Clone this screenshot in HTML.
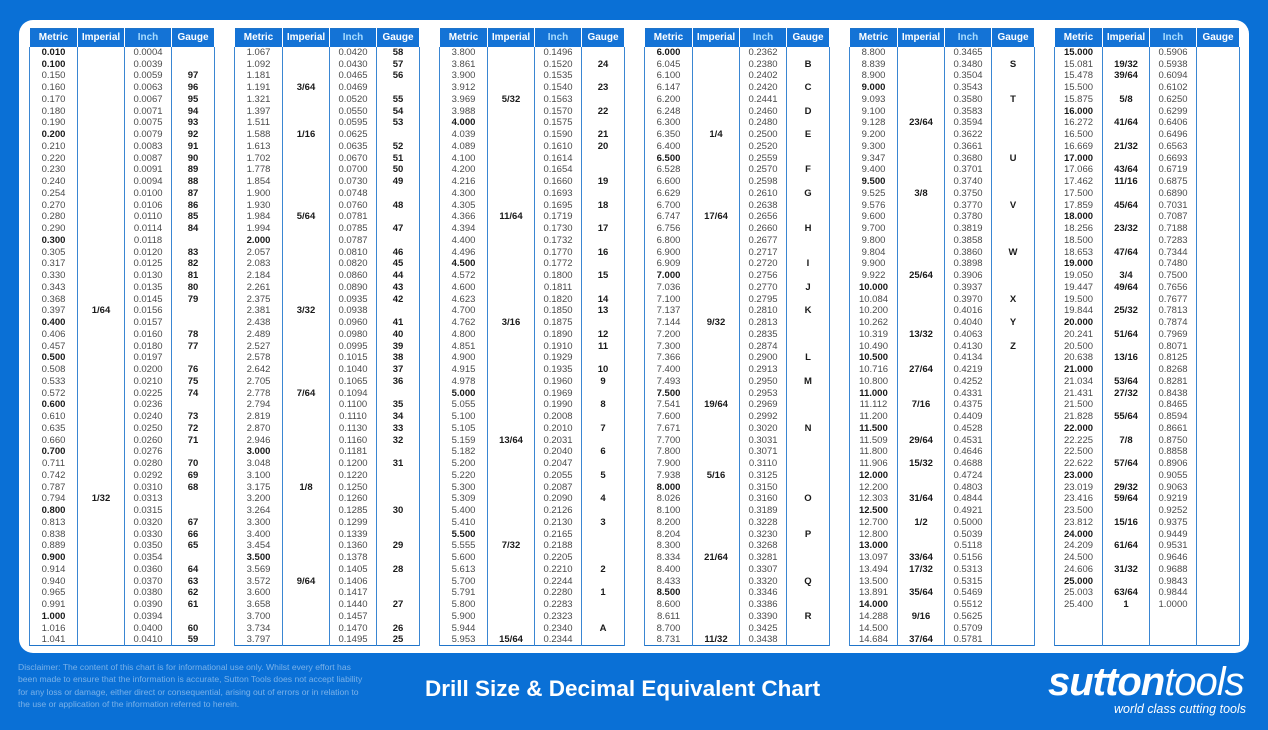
<!DOCTYPE html>
<html><head><meta charset="utf-8"><style>
*{margin:0;padding:0;box-sizing:border-box}
html,body{width:1268px;height:730px;overflow:hidden;background:#0a70d6;font-family:"Liberation Sans",sans-serif}
.panel{position:absolute;left:19px;top:20px;width:1230px;height:633px;background:#fff;border-radius:14px}
table{position:absolute;top:28px;width:185px;border-collapse:collapse;table-layout:fixed;border:1.5px solid #1f74c9}
th{height:18px;background:#1473d6;color:#fff;font-size:10px;font-weight:bold;border-left:1.5px solid #fff;border-right:1.5px solid #fff}
th.i{color:#a8dcff}
td{height:11.76px;padding:0;font-size:9.5px;line-height:11px;color:#4a4a4a;text-align:center;border-left:1px solid #3a86d2;border-right:1px solid #3a86d2;white-space:nowrap}
td:nth-child(2),td:nth-child(4),td.b{font-weight:bold;color:#1a1a1a}
col.a{width:48px}col.c{width:47px}col.d{width:47px}col.e{width:43px}
.disc{position:absolute;left:18px;top:661px;width:345px;font-size:8.6px;line-height:12.3px;color:rgba(255,255,255,.45)}
.title{position:absolute;left:425px;top:676px;font-size:22.5px;font-weight:bold;color:#fff;white-space:nowrap}
.logo{position:absolute;left:1048px;top:660px;font-size:40px;font-style:italic;color:#fff;letter-spacing:-1px;white-space:nowrap}
.logo b{font-weight:900}.logo span{font-weight:normal}
.tag{position:absolute;left:1114px;top:702px;font-size:12.5px;font-style:italic;color:#fff;white-space:nowrap}
</style></head><body>
<div class="panel"></div>

<table style="left:29px"><colgroup><col class=a><col class=c><col class=d><col class=e></colgroup>
<tr><th>Metric<th>Imperial<th class=i>Inch<th>Gauge
<tr><td class=b>0.010<td><td>0.0004<td>
<tr><td class=b>0.100<td><td>0.0039<td>
<tr><td>0.150<td><td>0.0059<td>97
<tr><td>0.160<td><td>0.0063<td>96
<tr><td>0.170<td><td>0.0067<td>95
<tr><td>0.180<td><td>0.0071<td>94
<tr><td>0.190<td><td>0.0075<td>93
<tr><td class=b>0.200<td><td>0.0079<td>92
<tr><td>0.210<td><td>0.0083<td>91
<tr><td>0.220<td><td>0.0087<td>90
<tr><td>0.230<td><td>0.0091<td>89
<tr><td>0.240<td><td>0.0094<td>88
<tr><td>0.254<td><td>0.0100<td>87
<tr><td>0.270<td><td>0.0106<td>86
<tr><td>0.280<td><td>0.0110<td>85
<tr><td>0.290<td><td>0.0114<td>84
<tr><td class=b>0.300<td><td>0.0118<td>
<tr><td>0.305<td><td>0.0120<td>83
<tr><td>0.317<td><td>0.0125<td>82
<tr><td>0.330<td><td>0.0130<td>81
<tr><td>0.343<td><td>0.0135<td>80
<tr><td>0.368<td><td>0.0145<td>79
<tr><td>0.397<td>1/64<td>0.0156<td>
<tr><td class=b>0.400<td><td>0.0157<td>
<tr><td>0.406<td><td>0.0160<td>78
<tr><td>0.457<td><td>0.0180<td>77
<tr><td class=b>0.500<td><td>0.0197<td>
<tr><td>0.508<td><td>0.0200<td>76
<tr><td>0.533<td><td>0.0210<td>75
<tr><td>0.572<td><td>0.0225<td>74
<tr><td class=b>0.600<td><td>0.0236<td>
<tr><td>0.610<td><td>0.0240<td>73
<tr><td>0.635<td><td>0.0250<td>72
<tr><td>0.660<td><td>0.0260<td>71
<tr><td class=b>0.700<td><td>0.0276<td>
<tr><td>0.711<td><td>0.0280<td>70
<tr><td>0.742<td><td>0.0292<td>69
<tr><td>0.787<td><td>0.0310<td>68
<tr><td>0.794<td>1/32<td>0.0313<td>
<tr><td class=b>0.800<td><td>0.0315<td>
<tr><td>0.813<td><td>0.0320<td>67
<tr><td>0.838<td><td>0.0330<td>66
<tr><td>0.889<td><td>0.0350<td>65
<tr><td class=b>0.900<td><td>0.0354<td>
<tr><td>0.914<td><td>0.0360<td>64
<tr><td>0.940<td><td>0.0370<td>63
<tr><td>0.965<td><td>0.0380<td>62
<tr><td>0.991<td><td>0.0390<td>61
<tr><td class=b>1.000<td><td>0.0394<td>
<tr><td>1.016<td><td>0.0400<td>60
<tr><td>1.041<td><td>0.0410<td>59
</table>

<table style="left:234px"><colgroup><col class=a><col class=c><col class=d><col class=e></colgroup>
<tr><th>Metric<th>Imperial<th class=i>Inch<th>Gauge
<tr><td>1.067<td><td>0.0420<td>58
<tr><td>1.092<td><td>0.0430<td>57
<tr><td>1.181<td><td>0.0465<td>56
<tr><td>1.191<td>3/64<td>0.0469<td>
<tr><td>1.321<td><td>0.0520<td>55
<tr><td>1.397<td><td>0.0550<td>54
<tr><td>1.511<td><td>0.0595<td>53
<tr><td>1.588<td>1/16<td>0.0625<td>
<tr><td>1.613<td><td>0.0635<td>52
<tr><td>1.702<td><td>0.0670<td>51
<tr><td>1.778<td><td>0.0700<td>50
<tr><td>1.854<td><td>0.0730<td>49
<tr><td>1.900<td><td>0.0748<td>
<tr><td>1.930<td><td>0.0760<td>48
<tr><td>1.984<td>5/64<td>0.0781<td>
<tr><td>1.994<td><td>0.0785<td>47
<tr><td class=b>2.000<td><td>0.0787<td>
<tr><td>2.057<td><td>0.0810<td>46
<tr><td>2.083<td><td>0.0820<td>45
<tr><td>2.184<td><td>0.0860<td>44
<tr><td>2.261<td><td>0.0890<td>43
<tr><td>2.375<td><td>0.0935<td>42
<tr><td>2.381<td>3/32<td>0.0938<td>
<tr><td>2.438<td><td>0.0960<td>41
<tr><td>2.489<td><td>0.0980<td>40
<tr><td>2.527<td><td>0.0995<td>39
<tr><td>2.578<td><td>0.1015<td>38
<tr><td>2.642<td><td>0.1040<td>37
<tr><td>2.705<td><td>0.1065<td>36
<tr><td>2.778<td>7/64<td>0.1094<td>
<tr><td>2.794<td><td>0.1100<td>35
<tr><td>2.819<td><td>0.1110<td>34
<tr><td>2.870<td><td>0.1130<td>33
<tr><td>2.946<td><td>0.1160<td>32
<tr><td class=b>3.000<td><td>0.1181<td>
<tr><td>3.048<td><td>0.1200<td>31
<tr><td>3.100<td><td>0.1220<td>
<tr><td>3.175<td>1/8<td>0.1250<td>
<tr><td>3.200<td><td>0.1260<td>
<tr><td>3.264<td><td>0.1285<td>30
<tr><td>3.300<td><td>0.1299<td>
<tr><td>3.400<td><td>0.1339<td>
<tr><td>3.454<td><td>0.1360<td>29
<tr><td class=b>3.500<td><td>0.1378<td>
<tr><td>3.569<td><td>0.1405<td>28
<tr><td>3.572<td>9/64<td>0.1406<td>
<tr><td>3.600<td><td>0.1417<td>
<tr><td>3.658<td><td>0.1440<td>27
<tr><td>3.700<td><td>0.1457<td>
<tr><td>3.734<td><td>0.1470<td>26
<tr><td>3.797<td><td>0.1495<td>25
</table>

<table style="left:439px"><colgroup><col class=a><col class=c><col class=d><col class=e></colgroup>
<tr><th>Metric<th>Imperial<th class=i>Inch<th>Gauge
<tr><td>3.800<td><td>0.1496<td>
<tr><td>3.861<td><td>0.1520<td>24
<tr><td>3.900<td><td>0.1535<td>
<tr><td>3.912<td><td>0.1540<td>23
<tr><td>3.969<td>5/32<td>0.1563<td>
<tr><td>3.988<td><td>0.1570<td>22
<tr><td class=b>4.000<td><td>0.1575<td>
<tr><td>4.039<td><td>0.1590<td>21
<tr><td>4.089<td><td>0.1610<td>20
<tr><td>4.100<td><td>0.1614<td>
<tr><td>4.200<td><td>0.1654<td>
<tr><td>4.216<td><td>0.1660<td>19
<tr><td>4.300<td><td>0.1693<td>
<tr><td>4.305<td><td>0.1695<td>18
<tr><td>4.366<td>11/64<td>0.1719<td>
<tr><td>4.394<td><td>0.1730<td>17
<tr><td>4.400<td><td>0.1732<td>
<tr><td>4.496<td><td>0.1770<td>16
<tr><td class=b>4.500<td><td>0.1772<td>
<tr><td>4.572<td><td>0.1800<td>15
<tr><td>4.600<td><td>0.1811<td>
<tr><td>4.623<td><td>0.1820<td>14
<tr><td>4.700<td><td>0.1850<td>13
<tr><td>4.762<td>3/16<td>0.1875<td>
<tr><td>4.800<td><td>0.1890<td>12
<tr><td>4.851<td><td>0.1910<td>11
<tr><td>4.900<td><td>0.1929<td>
<tr><td>4.915<td><td>0.1935<td>10
<tr><td>4.978<td><td>0.1960<td>9
<tr><td class=b>5.000<td><td>0.1969<td>
<tr><td>5.055<td><td>0.1990<td>8
<tr><td>5.100<td><td>0.2008<td>
<tr><td>5.105<td><td>0.2010<td>7
<tr><td>5.159<td>13/64<td>0.2031<td>
<tr><td>5.182<td><td>0.2040<td>6
<tr><td>5.200<td><td>0.2047<td>
<tr><td>5.220<td><td>0.2055<td>5
<tr><td>5.300<td><td>0.2087<td>
<tr><td>5.309<td><td>0.2090<td>4
<tr><td>5.400<td><td>0.2126<td>
<tr><td>5.410<td><td>0.2130<td>3
<tr><td class=b>5.500<td><td>0.2165<td>
<tr><td>5.555<td>7/32<td>0.2188<td>
<tr><td>5.600<td><td>0.2205<td>
<tr><td>5.613<td><td>0.2210<td>2
<tr><td>5.700<td><td>0.2244<td>
<tr><td>5.791<td><td>0.2280<td>1
<tr><td>5.800<td><td>0.2283<td>
<tr><td>5.900<td><td>0.2323<td>
<tr><td>5.944<td><td>0.2340<td>A
<tr><td>5.953<td>15/64<td>0.2344<td>
</table>

<table style="left:644px"><colgroup><col class=a><col class=c><col class=d><col class=e></colgroup>
<tr><th>Metric<th>Imperial<th class=i>Inch<th>Gauge
<tr><td class=b>6.000<td><td>0.2362<td>
<tr><td>6.045<td><td>0.2380<td>B
<tr><td>6.100<td><td>0.2402<td>
<tr><td>6.147<td><td>0.2420<td>C
<tr><td>6.200<td><td>0.2441<td>
<tr><td>6.248<td><td>0.2460<td>D
<tr><td>6.300<td><td>0.2480<td>
<tr><td>6.350<td>1/4<td>0.2500<td>E
<tr><td>6.400<td><td>0.2520<td>
<tr><td class=b>6.500<td><td>0.2559<td>
<tr><td>6.528<td><td>0.2570<td>F
<tr><td>6.600<td><td>0.2598<td>
<tr><td>6.629<td><td>0.2610<td>G
<tr><td>6.700<td><td>0.2638<td>
<tr><td>6.747<td>17/64<td>0.2656<td>
<tr><td>6.756<td><td>0.2660<td>H
<tr><td>6.800<td><td>0.2677<td>
<tr><td>6.900<td><td>0.2717<td>
<tr><td>6.909<td><td>0.2720<td>I
<tr><td class=b>7.000<td><td>0.2756<td>
<tr><td>7.036<td><td>0.2770<td>J
<tr><td>7.100<td><td>0.2795<td>
<tr><td>7.137<td><td>0.2810<td>K
<tr><td>7.144<td>9/32<td>0.2813<td>
<tr><td>7.200<td><td>0.2835<td>
<tr><td>7.300<td><td>0.2874<td>
<tr><td>7.366<td><td>0.2900<td>L
<tr><td>7.400<td><td>0.2913<td>
<tr><td>7.493<td><td>0.2950<td>M
<tr><td class=b>7.500<td><td>0.2953<td>
<tr><td>7.541<td>19/64<td>0.2969<td>
<tr><td>7.600<td><td>0.2992<td>
<tr><td>7.671<td><td>0.3020<td>N
<tr><td>7.700<td><td>0.3031<td>
<tr><td>7.800<td><td>0.3071<td>
<tr><td>7.900<td><td>0.3110<td>
<tr><td>7.938<td>5/16<td>0.3125<td>
<tr><td class=b>8.000<td><td>0.3150<td>
<tr><td>8.026<td><td>0.3160<td>O
<tr><td>8.100<td><td>0.3189<td>
<tr><td>8.200<td><td>0.3228<td>
<tr><td>8.204<td><td>0.3230<td>P
<tr><td>8.300<td><td>0.3268<td>
<tr><td>8.334<td>21/64<td>0.3281<td>
<tr><td>8.400<td><td>0.3307<td>
<tr><td>8.433<td><td>0.3320<td>Q
<tr><td class=b>8.500<td><td>0.3346<td>
<tr><td>8.600<td><td>0.3386<td>
<tr><td>8.611<td><td>0.3390<td>R
<tr><td>8.700<td><td>0.3425<td>
<tr><td>8.731<td>11/32<td>0.3438<td>
</table>

<table style="left:849px"><colgroup><col class=a><col class=c><col class=d><col class=e></colgroup>
<tr><th>Metric<th>Imperial<th class=i>Inch<th>Gauge
<tr><td>8.800<td><td>0.3465<td>
<tr><td>8.839<td><td>0.3480<td>S
<tr><td>8.900<td><td>0.3504<td>
<tr><td class=b>9.000<td><td>0.3543<td>
<tr><td>9.093<td><td>0.3580<td>T
<tr><td>9.100<td><td>0.3583<td>
<tr><td>9.128<td>23/64<td>0.3594<td>
<tr><td>9.200<td><td>0.3622<td>
<tr><td>9.300<td><td>0.3661<td>
<tr><td>9.347<td><td>0.3680<td>U
<tr><td>9.400<td><td>0.3701<td>
<tr><td class=b>9.500<td><td>0.3740<td>
<tr><td>9.525<td>3/8<td>0.3750<td>
<tr><td>9.576<td><td>0.3770<td>V
<tr><td>9.600<td><td>0.3780<td>
<tr><td>9.700<td><td>0.3819<td>
<tr><td>9.800<td><td>0.3858<td>
<tr><td>9.804<td><td>0.3860<td>W
<tr><td>9.900<td><td>0.3898<td>
<tr><td>9.922<td>25/64<td>0.3906<td>
<tr><td class=b>10.000<td><td>0.3937<td>
<tr><td>10.084<td><td>0.3970<td>X
<tr><td>10.200<td><td>0.4016<td>
<tr><td>10.262<td><td>0.4040<td>Y
<tr><td>10.319<td>13/32<td>0.4063<td>
<tr><td>10.490<td><td>0.4130<td>Z
<tr><td class=b>10.500<td><td>0.4134<td>
<tr><td>10.716<td>27/64<td>0.4219<td>
<tr><td>10.800<td><td>0.4252<td>
<tr><td class=b>11.000<td><td>0.4331<td>
<tr><td>11.112<td>7/16<td>0.4375<td>
<tr><td>11.200<td><td>0.4409<td>
<tr><td class=b>11.500<td><td>0.4528<td>
<tr><td>11.509<td>29/64<td>0.4531<td>
<tr><td>11.800<td><td>0.4646<td>
<tr><td>11.906<td>15/32<td>0.4688<td>
<tr><td class=b>12.000<td><td>0.4724<td>
<tr><td>12.200<td><td>0.4803<td>
<tr><td>12.303<td>31/64<td>0.4844<td>
<tr><td class=b>12.500<td><td>0.4921<td>
<tr><td>12.700<td>1/2<td>0.5000<td>
<tr><td>12.800<td><td>0.5039<td>
<tr><td class=b>13.000<td><td>0.5118<td>
<tr><td>13.097<td>33/64<td>0.5156<td>
<tr><td>13.494<td>17/32<td>0.5313<td>
<tr><td>13.500<td><td>0.5315<td>
<tr><td>13.891<td>35/64<td>0.5469<td>
<tr><td class=b>14.000<td><td>0.5512<td>
<tr><td>14.288<td>9/16<td>0.5625<td>
<tr><td>14.500<td><td>0.5709<td>
<tr><td>14.684<td>37/64<td>0.5781<td>
</table>

<table style="left:1054px;width:186px"><colgroup><col class=a><col class=c><col class=d><col class=e></colgroup>
<tr><th>Metric<th>Imperial<th class=i>Inch<th>Gauge
<tr><td class=b>15.000<td><td>0.5906<td>
<tr><td>15.081<td>19/32<td>0.5938<td>
<tr><td>15.478<td>39/64<td>0.6094<td>
<tr><td>15.500<td><td>0.6102<td>
<tr><td>15.875<td>5/8<td>0.6250<td>
<tr><td class=b>16.000<td><td>0.6299<td>
<tr><td>16.272<td>41/64<td>0.6406<td>
<tr><td>16.500<td><td>0.6496<td>
<tr><td>16.669<td>21/32<td>0.6563<td>
<tr><td class=b>17.000<td><td>0.6693<td>
<tr><td>17.066<td>43/64<td>0.6719<td>
<tr><td>17.462<td>11/16<td>0.6875<td>
<tr><td>17.500<td><td>0.6890<td>
<tr><td>17.859<td>45/64<td>0.7031<td>
<tr><td class=b>18.000<td><td>0.7087<td>
<tr><td>18.256<td>23/32<td>0.7188<td>
<tr><td>18.500<td><td>0.7283<td>
<tr><td>18.653<td>47/64<td>0.7344<td>
<tr><td class=b>19.000<td><td>0.7480<td>
<tr><td>19.050<td>3/4<td>0.7500<td>
<tr><td>19.447<td>49/64<td>0.7656<td>
<tr><td>19.500<td><td>0.7677<td>
<tr><td>19.844<td>25/32<td>0.7813<td>
<tr><td class=b>20.000<td><td>0.7874<td>
<tr><td>20.241<td>51/64<td>0.7969<td>
<tr><td>20.500<td><td>0.8071<td>
<tr><td>20.638<td>13/16<td>0.8125<td>
<tr><td class=b>21.000<td><td>0.8268<td>
<tr><td>21.034<td>53/64<td>0.8281<td>
<tr><td>21.431<td>27/32<td>0.8438<td>
<tr><td>21.500<td><td>0.8465<td>
<tr><td>21.828<td>55/64<td>0.8594<td>
<tr><td class=b>22.000<td><td>0.8661<td>
<tr><td>22.225<td>7/8<td>0.8750<td>
<tr><td>22.500<td><td>0.8858<td>
<tr><td>22.622<td>57/64<td>0.8906<td>
<tr><td class=b>23.000<td><td>0.9055<td>
<tr><td>23.019<td>29/32<td>0.9063<td>
<tr><td>23.416<td>59/64<td>0.9219<td>
<tr><td>23.500<td><td>0.9252<td>
<tr><td>23.812<td>15/16<td>0.9375<td>
<tr><td class=b>24.000<td><td>0.9449<td>
<tr><td>24.209<td>61/64<td>0.9531<td>
<tr><td>24.500<td><td>0.9646<td>
<tr><td>24.606<td>31/32<td>0.9688<td>
<tr><td class=b>25.000<td><td>0.9843<td>
<tr><td>25.003<td>63/64<td>0.9844<td>
<tr><td>25.400<td>1<td>1.0000<td>
<tr><td style="height:35.3px"><td><td><td>
</table>

<div class="disc">Disclaimer: The content of this chart is for informational use only. Whilst every effort has been made to ensure that the information is accurate, Sutton Tools does not accept liability for any loss or damage, either direct or consequential, arising out of errors or in relation to the use or application of the information referred to herein.</div>
<div class="title">Drill Size &amp; Decimal Equivalent Chart</div>
<div class="logo"><b>sutton</b><span>tools</span></div>
<div class="tag">world class cutting tools</div>
</body></html>
